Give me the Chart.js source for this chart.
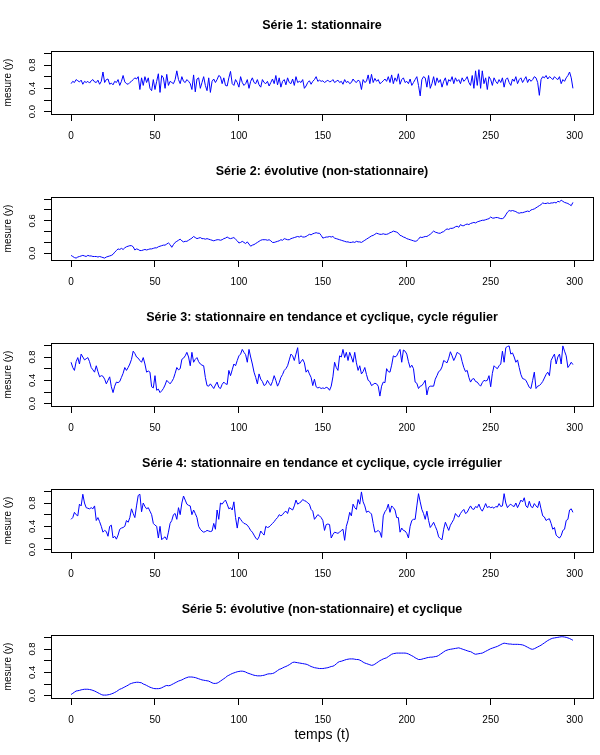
<!DOCTYPE html>
<html>
<head>
<meta charset="utf-8">
<script src="https://cdn.jsdelivr.net/npm/chart.js@4.4.0/dist/chart.umd.min.js"></script>
<style>
  body { margin: 0; background: #fff; }
  #wrap { position: relative; width: 600px; height: 755px; }
  #wrap canvas { position: absolute; left: 0; }
</style>
</head>
<body>
<div id="wrap"></div>
<script>
const police = "'Liberation Sans', Arial, Helvetica, sans-serif";

const titres = [
    "Série 1: stationnaire",
    "Série 2: évolutive (non-stationnaire)",
    "Série 3: stationnaire en tendance et cyclique, cycle régulier",
    "Série 4: stationnaire en tendance et cyclique, cycle irrégulier",
    "Série 5: évolutive (non-stationnaire) et cyclique"
];
const xTicks = [0, 50, 100, 150, 200, 250, 300];
const yTicks = [0, 0.2, 0.4, 0.6, 0.8, 1.0];
const yLabels = [[0, 0.4, 0.8], [0, 0.6], [0, 0.4, 0.8], [0, 0.4, 0.8], [0, 0.4, 0.8]];
const yRanges = [[-0.04, 1.04], [-0.125, 1.04], [-0.04, 1.04], [-0.04, 1.04], [-0.04, 1.04]];

const serie1 = [
    .48,.52,.50,.55,.53,.51,.54,.47,.52,.50,
    .52,.49,.53,.55,.51,.50,.54,.47,.52,.68,
    .50,.55,.56,.47,.49,.46,.52,.50,.55,.45,
    .52,.62,.51,.48,.47,.50,.52,.55,.58,.56,
    .60,.38,.58,.45,.60,.50,.58,.40,.36,.55,
    .38,.52,.65,.33,.62,.58,.40,.64,.45,.52,
    .50,.48,.55,.70,.55,.48,.60,.52,.50,.55,
    .52,.48,.38,.63,.34,.56,.58,.40,.50,.60,
    .45,.36,.58,.33,.52,.56,.50,.55,.62,.60,
    .48,.58,.45,.44,.58,.69,.48,.45,.55,.50,
    .42,.60,.50,.45,.48,.55,.40,.52,.58,.50,
    .48,.55,.46,.42,.55,.50,.48,.52,.44,.50,
    .56,.48,.62,.46,.58,.42,.52,.55,.46,.58,
    .50,.48,.56,.45,.60,.50,.52,.50,.55,.40,
    .44,.50,.53,.47,.52,.55,.60,.52,.54,.52,
    .53,.50,.52,.54,.51,.52,.55,.50,.52,.54,
    .50,.52,.47,.55,.50,.52,.48,.50,.56,.52,
    .50,.54,.52,.38,.55,.50,.52,.63,.48,.64,
    .50,.57,.52,.55,.48,.50,.53,.56,.52,.60,
    .50,.63,.48,.58,.52,.65,.47,.55,.58,.50,
    .52,.48,.56,.45,.50,.55,.60,.45,.27,.55,
    .60,.58,.42,.62,.40,.48,.60,.45,.58,.50,
    .55,.42,.52,.58,.45,.55,.52,.60,.48,.58,
    .52,.55,.48,.58,.52,.55,.60,.50,.45,.62,
    .40,.70,.45,.72,.40,.70,.48,.58,.38,.60,
    .55,.45,.58,.52,.48,.55,.50,.58,.42,.55,
    .58,.50,.45,.56,.52,.60,.48,.55,.58,.50,
    .55,.60,.50,.56,.52,.55,.60,.58,.50,.28,
    .55,.60,.58,.62,.56,.60,.58,.55,.60,.57,
    .55,.60,.48,.55,.52,.58,.62,.68,.58,.40
];

const serie2 = [
    -.04,-.06,-.08,-.09,-.07,-.06,-.05,-.04,-.05,-.06,
    -.04,-.05,-.05,-.06,-.06,-.06,-.07,-.06,-.07,-.08,
    -.09,-.07,-.06,-.05,-.04,-.02,.02,.05,.08,.07,
    .09,.07,.10,.12,.13,.14,.14,.12,.06,.08,
    .07,.05,.05,.06,.07,.06,.07,.08,.08,.09,
    .10,.10,.12,.13,.14,.15,.15,.17,.19,.16,
    .11,.16,.20,.22,.24,.26,.23,.21,.22,.22,
    .24,.26,.28,.31,.29,.27,.28,.29,.27,.27,
    .26,.27,.26,.25,.24,.23,.24,.25,.25,.24,
    .25,.27,.28,.30,.28,.27,.28,.29,.26,.23,
    .19,.20,.22,.20,.18,.21,.17,.13,.15,.16,
    .18,.20,.22,.24,.25,.25,.25,.24,.25,.23,
    .20,.20,.21,.22,.23,.25,.24,.27,.26,.25,
    .25,.27,.28,.29,.30,.31,.30,.32,.30,.30,
    .31,.33,.35,.34,.36,.37,.38,.37,.37,.33,
    .28,.29,.30,.30,.31,.30,.31,.28,.27,.26,
    .25,.24,.23,.22,.21,.21,.20,.20,.21,.20,
    .22,.21,.21,.20,.22,.24,.26,.28,.30,.32,
    .33,.35,.37,.36,.35,.35,.36,.35,.35,.36,
    .38,.39,.41,.40,.39,.37,.33,.32,.30,.29,
    .27,.26,.25,.24,.23,.22,.23,.26,.30,.29,
    .30,.31,.31,.33,.35,.38,.41,.39,.38,.37,
    .37,.39,.40,.43,.45,.44,.46,.46,.47,.49,
    .50,.48,.53,.51,.51,.53,.54,.53,.55,.56,
    .57,.56,.58,.59,.60,.61,.61,.62,.63,.64,
    .67,.65,.65,.66,.66,.65,.64,.64,.66,.71,
    .76,.79,.78,.79,.78,.77,.75,.74,.75,.75,
    .76,.77,.78,.77,.80,.81,.82,.84,.86,.88,
    .90,.93,.92,.92,.93,.92,.93,.93,.94,.93,
    .96,.95,.98,.96,.94,.93,.92,.90,.88,.94
];

const serie3 = [
    .71,.62,.57,.72,.79,.68,.85,.80,.75,.77,
    .79,.72,.62,.58,.54,.65,.55,.46,.48,.47,
    .42,.34,.40,.46,.29,.19,.30,.37,.36,.38,
    .45,.52,.62,.57,.62,.68,.76,.90,.86,.80,
    .78,.74,.71,.79,.68,.54,.56,.54,.29,.27,
    .48,.23,.25,.19,.22,.26,.32,.40,.37,.34,
    .38,.43,.52,.62,.58,.60,.76,.78,.82,.88,
    .80,.65,.88,.71,.76,.79,.72,.68,.66,.65,
    .45,.31,.30,.34,.30,.26,.32,.37,.28,.26,
    .33,.37,.34,.33,.57,.48,.58,.68,.65,.74,
    .82,.85,.93,.88,.84,.71,.93,.80,.68,.54,
    .45,.34,.51,.42,.38,.31,.33,.40,.35,.31,
    .38,.48,.40,.30,.36,.45,.50,.57,.60,.65,
    .75,.85,.82,.74,.85,.96,.68,.72,.76,.70,
    .54,.58,.51,.45,.31,.42,.29,.27,.28,.26,
    .27,.26,.28,.27,.23,.30,.46,.71,.62,.57,
    .82,.80,.93,.79,.88,.74,.88,.80,.71,.88,
    .70,.57,.65,.51,.55,.62,.50,.40,.38,.31,
    .33,.35,.34,.30,.13,.30,.37,.36,.60,.55,
    .54,.66,.82,.80,.82,.88,.93,.71,.92,.90,
    .85,.72,.62,.66,.60,.37,.35,.26,.30,.31,
    .35,.40,.15,.28,.30,.30,.30,.42,.48,.55,
    .57,.63,.74,.72,.70,.78,.89,.82,.74,.80,
    .88,.86,.84,.72,.62,.55,.57,.45,.37,.42,
    .43,.38,.37,.33,.30,.36,.40,.39,.40,.48,
    .29,.52,.65,.62,.60,.65,.68,.90,.71,.96,
    .98,.99,.85,.87,.80,.71,.75,.62,.50,.43,
    .42,.40,.34,.28,.26,.40,.54,.26,.30,.31,
    .34,.38,.44,.50,.54,.48,.74,.80,.85,.68,
    .80,.85,.68,.99,.90,.82,.62,.66,.71,.67
];

const serie4 = [
    .52,.55,.64,.60,.58,.78,.75,.95,.80,.72,
    .71,.70,.72,.70,.75,.50,.55,.48,.40,.30,
    .33,.31,.23,.40,.42,.20,.23,.18,.25,.35,
    .37,.38,.40,.50,.47,.55,.70,.62,.55,.75,
    .93,.95,.65,.80,.74,.70,.72,.66,.60,.45,
    .42,.40,.20,.40,.17,.20,.22,.17,.30,.45,
    .50,.60,.62,.52,.72,.60,.80,.92,.85,.78,
    .76,.75,.60,.68,.62,.55,.40,.35,.32,.30,
    .31,.33,.32,.31,.32,.45,.35,.68,.52,.80,
    .78,.82,.85,.78,.70,.72,.68,.82,.55,.37,
    .56,.52,.48,.45,.44,.42,.38,.33,.30,.25,
    .20,.17,.22,.32,.28,.25,.40,.38,.39,.42,
    .45,.48,.52,.55,.60,.58,.60,.64,.66,.62,
    .72,.70,.68,.75,.85,.78,.80,.82,.86,.84,
    .83,.80,.78,.69,.66,.52,.56,.60,.58,.55,
    .50,.33,.43,.44,.43,.20,.26,.30,.29,.28,
    .30,.33,.35,.16,.40,.50,.64,.58,.78,.72,
    .69,.86,.78,.99,.82,.75,.64,.66,.64,.61,
    .45,.30,.31,.33,.30,.21,.58,.65,.69,.78,
    .64,.75,.72,.68,.55,.55,.30,.37,.33,.32,
    .28,.20,.40,.50,.52,.52,.75,.96,.82,.69,
    .62,.52,.66,.50,.38,.42,.47,.40,.33,.22,
    .19,.17,.35,.47,.40,.33,.42,.47,.52,.62,
    .58,.56,.62,.66,.69,.62,.64,.70,.75,.70,
    .69,.74,.72,.78,.70,.66,.72,.79,.72,.74,
    .72,.73,.71,.74,.73,.79,.74,.75,.96,.80,
    .72,.76,.78,.75,.74,.80,.72,.78,.85,.82,
    .89,.75,.72,.83,.74,.72,.79,.75,.72,.83,
    .70,.58,.56,.50,.52,.53,.45,.35,.38,.25,
    .22,.20,.24,.33,.35,.50,.52,.68,.70,.64
];

const serie5 = [
    .02,.04,.06,.08,.085,.09,.10,.105,.11,.11,
    .11,.105,.10,.09,.08,.065,.05,.035,.02,.01,
    .01,.01,.015,.02,.03,.04,.055,.07,.09,.11,
    .12,.135,.15,.165,.18,.20,.21,.22,.225,.23,
    .23,.225,.22,.20,.19,.175,.16,.145,.135,.125,
    .12,.12,.12,.125,.135,.15,.165,.175,.17,.175,
    .19,.205,.22,.235,.25,.26,.27,.285,.30,.31,
    .32,.32,.32,.315,.31,.30,.29,.28,.27,.265,
    .26,.255,.25,.235,.22,.21,.21,.215,.23,.25,
    .27,.29,.31,.335,.35,.365,.38,.39,.40,.41,
    .415,.42,.42,.415,.405,.39,.38,.37,.36,.35,
    .345,.34,.34,.34,.345,.35,.36,.37,.375,.375,
    .38,.39,.41,.43,.45,.46,.475,.49,.50,.515,
    .53,.55,.57,.575,.57,.565,.56,.555,.55,.545,
    .54,.53,.515,.50,.49,.48,.475,.47,.465,.465,
    .465,.47,.475,.48,.49,.50,.505,.52,.545,.57,
    .585,.59,.60,.61,.62,.625,.63,.63,.63,.625,
    .62,.62,.61,.595,.575,.56,.55,.54,.53,.52,
    .525,.54,.56,.58,.60,.615,.63,.64,.65,.67,
    .69,.71,.72,.725,.73,.73,.73,.73,.73,.73,
    .725,.715,.70,.685,.67,.65,.635,.62,.62,.625,
    .635,.64,.65,.655,.66,.66,.665,.67,.675,.69,
    .71,.73,.75,.77,.78,.79,.795,.80,.805,.81,
    .815,.82,.81,.80,.79,.78,.77,.76,.755,.74,
    .72,.71,.715,.72,.725,.73,.745,.76,.775,.79,
    .805,.815,.825,.835,.845,.86,.875,.89,.90,.895,
    .89,.885,.885,.88,.88,.88,.88,.878,.875,.87,
    .86,.845,.83,.815,.80,.795,.805,.82,.835,.85,
    .865,.885,.905,.925,.945,.96,.975,.985,.99,.995,
    1.0,1.005,1.01,1.01,1.005,1.0,.99,.98,.965,.95
];

const series = [serie1, serie2, serie3, serie4, serie5];
const temps = serie1.map((v, i) => i);

const hauteurs = [146, 146, 146, 146, 171];

const decor = {
    id: "decor",
    afterDraw(chart, args, opts) {
        const ctx = chart.ctx;
        const a = chart.chartArea;
        const y = chart.scales.y;
        const cx = (a.left + a.right) / 2;

        ctx.save();
        ctx.strokeStyle = "#000";
        ctx.lineWidth = 1;
        ctx.strokeRect(Math.round(a.left) + 0.5, Math.round(a.top) + 0.5,
            Math.round(a.right - a.left), Math.round(a.bottom - a.top));

        ctx.fillStyle = "#000";
        ctx.textAlign = "center";
        ctx.textBaseline = "middle";
        ctx.font = "bold 12.5px " + police;
        ctx.fillText(opts.titre, cx, 26);

        if (opts.xTitre) {
            ctx.font = "14px " + police;
            ctx.fillText(opts.xTitre, cx, 151);
        }

        ctx.font = "10px " + police;
        ctx.save();
        ctx.translate(8, (a.top + a.bottom) / 2);
        ctx.rotate(-Math.PI / 2);
        ctx.fillText("mesure (y)", 0, 0);
        ctx.restore();

        ctx.font = "9.5px " + police;
        opts.labels.forEach((v) => {
            ctx.save();
            ctx.translate(32, y.getPixelForValue(v));
            ctx.rotate(-Math.PI / 2);
            ctx.fillText(v.toFixed(1), 0, 0);
            ctx.restore();
        });
        ctx.restore();
    },
};

let wrap = document.getElementById("wrap");
let decalage = 0;

series.forEach((serie, i) => {
    let h = hauteurs[i];
    let canvas = document.createElement("canvas");
    canvas.width = 600;
    canvas.height = h;
    canvas.style.top = decalage + "px";
    canvas.style.width = "600px";
    canvas.style.height = h + "px";
    wrap.appendChild(canvas);
    decalage += h;

    new Chart(canvas, {
        type: "line",
        data: {
            datasets: [
                {
                    data: serie.map((v, j) => ({ x: temps[j], y: v })),
                    borderColor: "#0000ff",
                    borderWidth: 1,
                    pointRadius: 0,
                    fill: false,
                    tension: 0,
                },
            ],
        },
        options: {
            responsive: false,
            animation: false,
            events: [],
            layout: { padding: { top: 51, right: 7, left: 0, bottom: 0 } },
            plugins: {
                legend: { display: false },
                tooltip: { enabled: false },
                decor: {
                    titre: titres[i],
                    labels: yLabels[i],
                    xTitre: i === 4 ? "temps (t)" : null,
                },
            },
            scales: {
                x: {
                    type: "linear",
                    min: -11.96,
                    max: 310.96,
                    afterBuildTicks: (s) => {
                        s.ticks = xTicks.map((v) => ({ value: v }));
                    },
                    afterFit: (s) => {
                        s.height = h - 114;
                    },
                    grid: { drawOnChartArea: false, drawTicks: true, tickLength: 7, color: "#000" },
                    border: { display: false },
                    ticks: {
                        font: { size: 10, family: police },
                        color: "#000",
                        padding: 9,
                        autoSkip: false,
                        maxRotation: 0,
                    },
                },
                y: {
                    min: yRanges[i][0],
                    max: yRanges[i][1],
                    afterBuildTicks: (s) => {
                        s.ticks = yTicks.map((v) => ({ value: v }));
                    },
                    afterFit: (s) => {
                        s.width = 51;
                    },
                    grid: { drawOnChartArea: false, drawTicks: true, tickLength: 7, color: "#000" },
                    border: { display: false },
                    ticks: { display: false },
                },
            },
        },
        plugins: [decor],
    });
});
</script>
</body>
</html>
